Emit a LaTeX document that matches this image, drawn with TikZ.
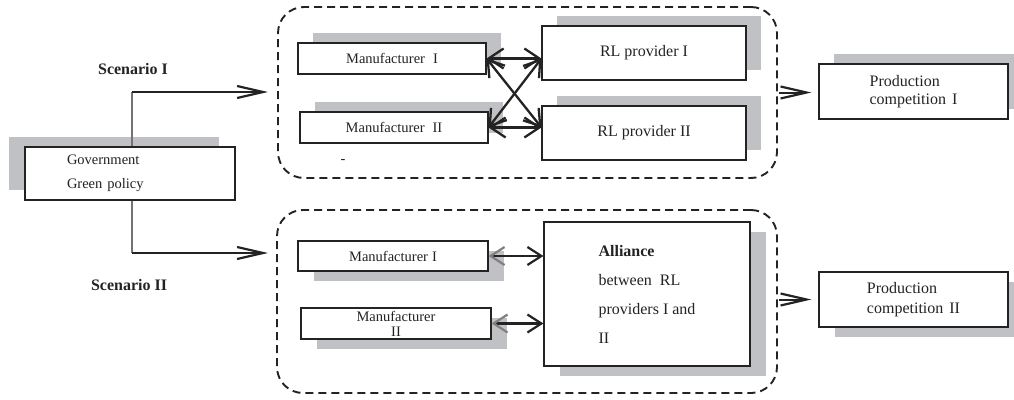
\documentclass[tikz,border=0pt]{standalone}
\usepackage{fontspec}
\setmainfont{Liberation Serif}
\usetikzlibrary{arrows.meta,shadows}
\definecolor{shadowgray}{RGB}{192,193,196}
\definecolor{ink}{RGB}{35,35,35}
\begin{document}
\begin{tikzpicture}[x=1pt,y=-1pt,
  box/.style={draw=ink,fill=white,line width=1.1pt,rectangle,inner sep=0pt,
    text=ink,font=\fontsize{14.5}{17}\selectfont},
  shUL/.style={general shadow={fill=shadowgray,shadow xshift=-16pt,shadow yshift=10pt}},
  shUR/.style={general shadow={fill=shadowgray,shadow xshift=15pt,shadow yshift=10pt}},
  shDR/.style={general shadow={fill=shadowgray,shadow xshift=16pt,shadow yshift=-10pt}},
  scen/.style={draw=ink,line width=1.9pt,dash pattern=on 8pt off 5pt,rounded corners=26pt,
    rectangle,inner sep=0pt},
  lbl/.style={text=ink,font=\fontsize{16}{18}\selectfont\bfseries,inner sep=0pt},
  dbl/.style={line width=2.3pt,draw=ink,{Straight Barb[length=15pt,width=20pt]}-{Straight Barb[length=15pt,width=20pt]}},
  dblg/.style={line width=2.2pt,draw=ink,{Straight Barb[length=14pt,width=18pt,color=gray]}-{Straight Barb[length=14pt,width=18pt]}},
  harrow/.style={line width=2pt,draw=ink,-{Straight Barb[length=26pt,width=12pt,line width=2.2pt]}},
  vline/.style={line width=1.4pt,draw=black!55}
]
\useasboundingbox (0,0) rectangle (1014,399);

% scenario frames
\node[scen,minimum width=499pt,minimum height=171pt] (sc1) at (527.5,92.5) {};
\node[scen,minimum width=500pt,minimum height=183pt] (sc2) at (527,301.5) {};

% government
\node[box,shUL,minimum height=53pt,inner xsep=42pt,text width=126pt,align=left,
  font=\fontsize{14.5}{24}\selectfont] (gov) at (130,173.5) {Government\\Green policy};

% scenario I
\node[box,shUR,minimum width=188pt,minimum height=31pt] (m1) at (392,58.5) {Manufacturer\hspace{8pt}I};
\node[box,shUR,minimum width=188pt,minimum height=31pt] (m2) at (394,127.5) {Manufacturer\hspace{8pt}II};
\node[box,shUR,minimum width=204pt,minimum height=54pt,font=\fontsize{16}{18}\selectfont] (r1) at (644,53) {RL provider I};
\node[box,shUR,minimum width=204pt,minimum height=54pt,font=\fontsize{16}{18}\selectfont] (r2) at (644,133) {\raisebox{4pt}{RL provider II}};
\node[box,shUR,minimum width=189pt,minimum height=55pt,align=left,
  font=\fontsize{16}{18}\selectfont] (p1) at (913.5,91.5) {Production\\competition\hspace{6pt}I};
\node[text=ink,inner sep=0pt,font=\fontsize{14.5}{17}\selectfont] (dash) at (343,162) {-};

% scenario II
\node[box,shDR,minimum width=190pt,minimum height=30pt] (bm1) at (393,256) {Manufacturer\hspace{4pt}I};
\node[box,shDR,minimum width=190pt,minimum height=31pt,align=center,
  font=\fontsize{14.5}{15}\selectfont] (bm2) at (396,323.5) {Manufacturer\\II};
\node[box,shDR,minimum width=206pt,minimum height=144pt,align=left,
  font=\fontsize{16}{29}\selectfont] (al) at (647,294)
  {\textbf{Alliance}\\between\hspace{8pt}RL\\providers I and\\II};
\node[box,shDR,minimum width=189pt,minimum height=55pt,align=left,
  font=\fontsize{16}{20}\selectfont] (p2) at (913.5,299.5) {Production\\competition\hspace{6pt}II};

% labels
\node[lbl] (s1lab) at (133,69) {Scenario I};
\node[lbl] (s2lab) at (129,285) {Scenario II};

% government connectors
\coordinate (c1) at (132,92);
\coordinate (c2) at (132,253);
\coordinate (s1end) at (268,92);
\coordinate (s2end) at (268,253);
\draw[vline] (gov.north -| c1) -- (c1);
\draw[vline] (gov.south -| c2) -- (c2);
\draw[harrow] (c1) -- (s1end);
\draw[harrow] (c2) -- (s2end);

% scenario I arrows
\draw[dbl] (m1.east) -- (r1.west |- m1.east);
\draw[dbl] (m1.east) -- (r2.west |- m2.east);
\draw[dbl] (m2.east) -- (r1.west |- m1.east);
\draw[dbl] (m2.east) -- (r2.west |- m2.east);

% scenario II arrows
\draw[dblg] (bm1.east) -- (al.west |- bm1.east);
\draw[dblg] (bm2.east) -- (al.west |- bm2.east);

% to production
\draw[harrow,shorten >=7pt] ([xshift=1pt]sc1.east) -- (p1.west |- sc1.east);
\draw[harrow,shorten >=7pt] ([xshift=1pt]sc2.east |- p2.west) -- (p2.west);
\end{tikzpicture}
\end{document}
